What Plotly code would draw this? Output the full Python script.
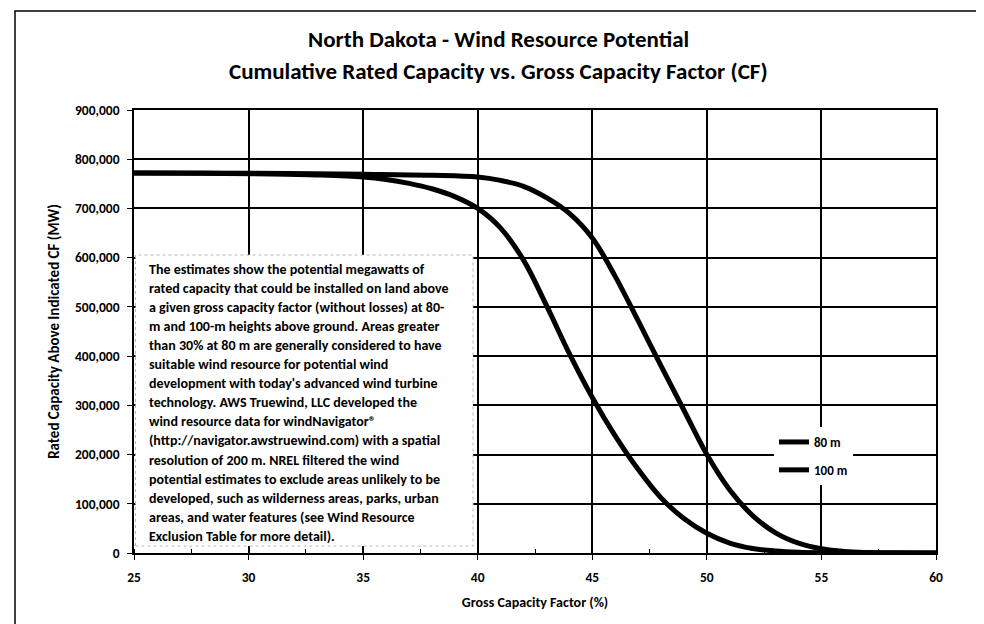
import plotly.graph_objects as go

# ---------------- data ----------------
cf_80 = [25, 28, 31, 33, 35, 36, 37, 38, 39, 40, 41, 42, 43, 44, 45, 46, 47, 48, 49, 50, 51, 52, 53, 54, 55, 57, 60]
mw_80 = [772000, 771500, 770000, 768000, 764000, 759000, 751000, 740000, 724000, 700000, 660000, 595000,
         503000, 405000, 316000, 238000, 170000, 112000, 70000, 40000, 20000, 9000, 4000, 1500, 500, 0, 0]

cf_100 = [25, 30, 35, 38, 40, 41, 42, 43, 44, 45, 46, 47, 48, 49, 50, 51, 52, 53, 54, 55, 56, 57, 58, 60]
mw_100 = [772000, 771500, 769500, 767500, 764000, 757000, 745000, 722000, 690000, 640000, 562000, 472000,
          380000, 290000, 200000, 128000, 76000, 41000, 20000, 8500, 3000, 1000, 300, 0]

series_names = ["80 m", "100 m"]

title_lines = ["North Dakota - Wind Resource Potential",
               "Cumulative Rated Capacity vs. Gross Capacity Factor (CF)"]
x_title = "Gross Capacity Factor (%)"
y_title = "Rated Capacity Above Indicated CF (MW)"

note_lines = [
    "The estimates show the potential megawatts of",
    "rated capacity that could be installed on land above",
    "a given gross capacity factor (without losses) at 80-",
    "m and 100-m heights above ground. Areas greater",
    "than 30% at 80 m are generally considered to have",
    "suitable wind resource for potential wind",
    "development with today's advanced wind turbine",
    "technology. AWS Truewind, LLC developed the",
    "wind resource data for windNavigator®",
    "(http://navigator.awstruewind.com) with a spatial",
    "resolution of 200 m. NREL filtered the wind",
    "potential estimates to exclude areas unlikely to be",
    "developed, such as wilderness areas, parks, urban",
    "areas, and water features (see Wind Resource",
    "Exclusion Table for more detail).",
]

# ---------------- layout geometry ----------------
W, H = 984, 624
L, R, T, B = 126, 928, 102, 545
FONT = "Carlito, Lato, Arial, sans-serif"


def px(x):
    return (x - L) / (R - L)


def py(y):
    return (B - y) / (B - T)


fig = go.Figure()
for name, xs, ys in [(series_names[0], cf_80, mw_80), (series_names[1], cf_100, mw_100)]:
    fig.add_trace(go.Scatter(
        x=xs, y=ys, mode="lines", name=name, legendgroup=name,
        line=dict(color="black", width=5, shape="spline", smoothing=1.0),
    ))

axis_common = dict(
    showgrid=True, gridcolor="black", gridwidth=1.5,
    showline=True, linecolor="black", linewidth=1.5, mirror=True,
    ticks="outside", ticklen=5, tickcolor="black",
    tickfont=dict(family=FONT, size=13.5, color="black", weight="bold"),
    zeroline=False,
)

fig.update_layout(
    width=W, height=H,
    margin=dict(l=L, r=W - R, t=T, b=H - B),
    paper_bgcolor="white", plot_bgcolor="white",
    showlegend=True,
    legend=dict(
        x=px(766), y=py(419), xanchor="left", yanchor="top",
        bgcolor="white", borderwidth=0, tracegroupgap=8,
        font=dict(family=FONT, size=13, color="black", weight="bold"),
    ),
    xaxis=dict(
        range=[25, 60], dtick=5, tick0=25, ticklabelstandoff=6,
        title=dict(text=x_title, standoff=12,
                   font=dict(family=FONT, size=14, color="black", weight="bold")),
        minor=dict(dtick=2.5, ticks="inside", ticklen=4, tickcolor="black", showgrid=False),
        **axis_common,
    ),
    yaxis=dict(
        range=[0, 900000], dtick=100000, tickformat=",", ticklabelstandoff=5,
        title=dict(text=y_title, standoff=12,
                   font=dict(family=FONT, size=15, color="black", weight="bold")),
        **axis_common,
    ),
)

shapes = [
    # note box
    dict(type="rect", xref="paper", yref="paper",
         x0=px(127.5), x1=px(465), y0=py(538), y1=py(247),
         fillcolor="white", line=dict(color="#b8b8b8", width=1, dash="dot"), layer="above"),
    # page frame
    dict(type="rect", xref="paper", yref="paper",
         x0=px(7), x1=px(977), y0=py(619), y1=py(3),
         fillcolor="rgba(0,0,0,0)", line=dict(color="black", width=1.5), layer="above"),
]
fig.update_layout(shapes=shapes)

annotations = []
for i, line in enumerate(title_lines):
    annotations.append(dict(
        text=line, xref="paper", yref="paper", x=px(490), y=py(31 + i * 32),
        xanchor="center", yanchor="middle", showarrow=False,
        font=dict(family=FONT, size=23, color="black", weight="bold"),
    ))
for i, line in enumerate(note_lines):
    annotations.append(dict(
        text=line, xref="paper", yref="paper", x=px(139), y=py(261 + i * 19.1),
        xanchor="left", yanchor="middle", showarrow=False,
        font=dict(family=FONT, size=14, color="black", weight="bold"),
    ))
fig.update_layout(annotations=annotations)

fig.write_html("out.html")
